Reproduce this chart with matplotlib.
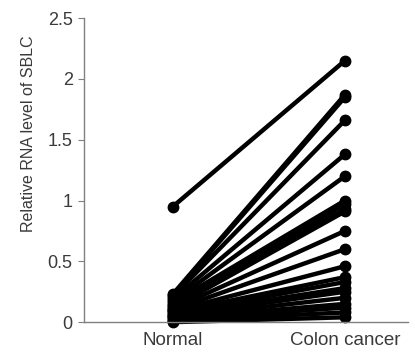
import matplotlib

matplotlib.use("Agg")

import matplotlib.pyplot as plt

INK = "#3a3a3a"
AXIS = "#808080"

groups = ["Normal", "Colon cancer"]
normal = [0.95, 0.23, 0.22, 0.21, 0.19, 0.17, 0.16, 0.14, 0.13, 0.12, 0.11,
          0.10, 0.09, 0.08, 0.07, 0.06, 0.05, 0.04, 0.03, 0.02, 0.01, 0.00]
cancer = [2.15, 1.87, 1.85, 1.66, 1.38, 1.20, 1.00, 0.97, 0.93, 0.91, 0.75,
          0.60, 0.46, 0.37, 0.33, 0.28, 0.25, 0.20, 0.15, 0.12, 0.08, 0.04]
y_ticks = [0, 0.5, 1, 1.5, 2, 2.5]
y_tick_labels = ["0", "0.5", "1", "1.5", "2", "2.5"]

plt.rcParams["font.family"] = ["Liberation Sans", "DejaVu Sans"]

fig = plt.figure(figsize=(4.15, 3.54), dpi=100, facecolor="white")
ax = fig.add_axes([0.202, 0.090, 0.781, 0.859])

for n, c in zip(normal, cancer):
    ax.plot([0, 1], [n, c], color="black", lw=3.2, marker="o",
            markersize=7.5, solid_capstyle="round", clip_on=False)

ax.set_xlim(-0.517, 1.366)
ax.set_ylim(0, 2.5)
ax.set_xticks([0, 1])
ax.set_xticklabels(groups, fontsize=13.5, color=INK)
ax.set_yticks(y_ticks)
ax.set_yticklabels(y_tick_labels, fontsize=13, color=INK)
ax.tick_params(axis="x", length=0, pad=7)
ax.tick_params(axis="y", length=4, color=AXIS, direction="out", pad=4)
ax.spines[["top", "right"]].set_visible(False)
ax.spines[["left", "bottom"]].set_color(AXIS)
ax.spines[["left", "bottom"]].set_linewidth(1.0)
ax.set_ylabel("Relative RNA level of SBLC", fontsize=11.5, color=INK, labelpad=4)
ax.yaxis.set_label_coords(-0.148, 0.62)

fig.savefig("out.png", dpi=100, facecolor="white")
